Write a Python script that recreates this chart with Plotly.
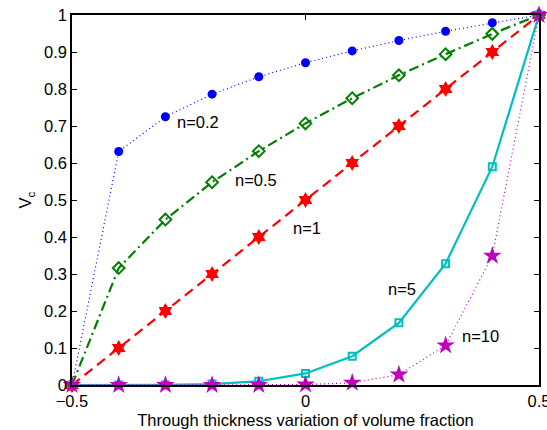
import plotly.graph_objects as go

# Through-thickness coordinate z/h
z = [-0.5, -0.4, -0.3, -0.2, -0.1, 0.0, 0.1, 0.2, 0.3, 0.4, 0.5]

# Ceramic volume fraction for each power-law index
vc_n02 = [0.0, 0.631, 0.725, 0.786, 0.833, 0.871, 0.903, 0.931, 0.956, 0.979, 1.0]
vc_n05 = [0.0, 0.316, 0.447, 0.548, 0.632, 0.707, 0.775, 0.837, 0.894, 0.949, 1.0]
vc_n1 = [0.0, 0.1, 0.2, 0.3, 0.4, 0.5, 0.6, 0.7, 0.8, 0.9, 1.0]
vc_n5 = [0.0, 0.0, 0.0003, 0.0024, 0.0102, 0.0313, 0.0778, 0.168, 0.328, 0.590, 1.0]
vc_n10 = [0.0, 0.0, 0.0, 0.0, 0.0001, 0.001, 0.006, 0.028, 0.107, 0.349, 1.0]

labels = ["n=0.2", "n=0.5", "n=1", "n=5", "n=10"]
label_x = [-0.23, -0.106, 0.004, 0.206, 0.374]
label_y = [0.711, 0.554, 0.424, 0.259, 0.132]

y_ticks = [0, 0.1, 0.2, 0.3, 0.4, 0.5, 0.6, 0.7, 0.8, 0.9, 1]
y_ticktext = ["0", "0.1", "0.2", "0.3", "0.4", "0.5", "0.6", "0.7", "0.8", "0.9", "1"]
x_ticks = [-0.5, 0, 0.5]
x_ticktext = ["\u22120.5", "0", "0.5"]

FONT = "Liberation Sans, Arial, Helvetica, sans-serif"
FS = 16.5

fig = go.Figure()

series = [
    (vc_n02, "#0000FF", "1px,3px", 1.2, "circle", 9, 0),
    (vc_n05, "#008000", "10px,4px,2px,4px", 2.2, "diamond-open", 9, 2),
    (vc_n1, "#FF0000", "10px,6px", 2.2, "hexagram", 12, 0),
    (vc_n5, "#00BFBF", "solid", 2.2, "square-open", 7, 2),
    (vc_n10, "#BF00BF", "1px,3px", 1.2, "star", 14, 0),
]

for vals, color, dash, lw, sym, ms, mlw in series:
    fig.add_trace(go.Scatter(
        x=z, y=vals, mode="lines+markers",
        line=dict(color=color, dash=dash, width=lw),
        marker=dict(symbol=sym, size=ms, color=color,
                    line=dict(color=color, width=mlw)),
        cliponaxis=False, showlegend=False,
    ))

for txt, lx, ly in zip(labels, label_x, label_y):
    fig.add_annotation(x=lx, y=ly, text=txt, showarrow=False,
                       font=dict(family=FONT, size=FS, color="black"))

axis_common = dict(
    showline=True, linecolor="black", linewidth=1.5, mirror="ticks",
    ticks="inside", ticklen=5, tickcolor="black", tickwidth=1,
    showgrid=False, zeroline=False, automargin=False,
    ticklabeloverflow="allow",
    tickfont=dict(family=FONT, size=FS, color="black"),
)

fig.update_xaxes(range=[-0.5, 0.5], tickvals=x_ticks, ticktext=x_ticktext,
                 title=dict(text="Through thickness variation of volume fraction",
                            font=dict(family=FONT, size=FS, color="black"),
                            standoff=6),
                 **axis_common)
fig.update_yaxes(range=[0, 1], tickvals=y_ticks, ticktext=y_ticktext,
                 title=dict(text="V<sub>c</sub>",
                            font=dict(family=FONT, size=FS, color="black"),
                            standoff=8),
                 **axis_common)

fig.update_layout(
    width=547, height=430,
    margin=dict(l=72, r=8, t=15, b=45),
    plot_bgcolor="white", paper_bgcolor="white",
    font=dict(family=FONT, size=FS, color="black"),
)

fig.write_html("out.html")
